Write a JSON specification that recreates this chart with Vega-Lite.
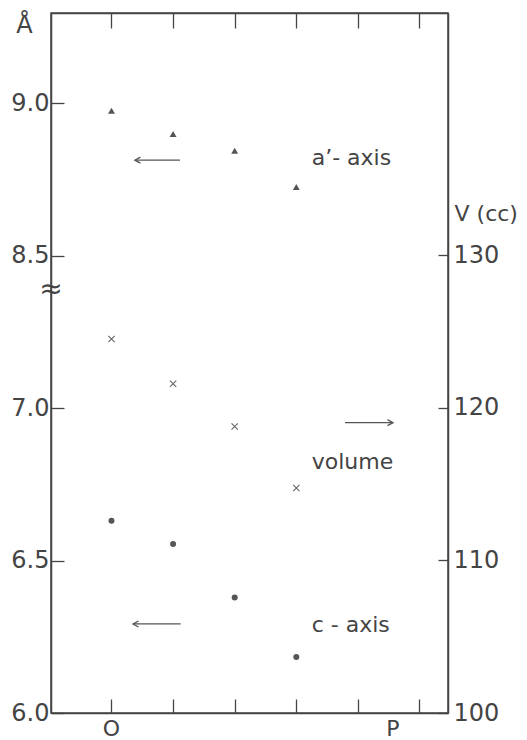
{
  "$schema": "https://vega.github.io/schema/vega-lite/v6.json",
  "width": 397,
  "height": 700,
  "autosize": {"type": "none"},
  "padding": {"left": 51, "top": 13, "right": 79, "bottom": 27},
  "background": "white",
  "config": {
    "view": {"stroke": "#444", "strokeWidth": 1.5},
    "font": "DejaVu Sans",
    "axis": {
      "domainColor": "#444", "domainWidth": 1.5,
      "tickColor": "#444", "tickWidth": 1.3,
      "grid": false,
      "labelColor": "#444", "titleColor": "#444",
      "labelFont": "DejaVu Sans", "titleFont": "DejaVu Sans",
      "titleFontWeight": "normal"
    }
  },
  "datasets": {
    "caxis": [
      {"pos": 0, "value": 6.63},
      {"pos": 1, "value": 6.554},
      {"pos": 2, "value": 6.379},
      {"pos": 3, "value": 6.184}
    ],
    "aaxis": [
      {"pos": 0, "value": 8.975},
      {"pos": 1, "value": 8.899},
      {"pos": 2, "value": 8.844},
      {"pos": 3, "value": 8.725}
    ],
    "volume": [
      {"pos": 0, "volume": 124.52},
      {"pos": 1, "volume": 121.59},
      {"pos": 2, "volume": 118.79},
      {"pos": 3, "volume": 114.75}
    ],
    "arrows": [
      {"x1": 0.38, "x2": 1.112, "y": 8.813, "tip": 0.38, "dir": "left"},
      {"x1": 3.79, "x2": 4.57, "y": 6.952, "tip": 4.57, "dir": "right"},
      {"x1": 0.349, "x2": 1.123, "y": 6.292, "tip": 0.349, "dir": "left"}
    ],
    "labels": [
      {"pos": 3.25, "value": 8.819, "text": "a’- axis"},
      {"pos": 3.25, "value": 6.824, "text": "volume"},
      {"pos": 3.25, "value": 6.289, "text": "c - axis"}
    ],
    "xlabels": [
      {"pos": 0, "value": 5.946, "text": "O"},
      {"pos": 4.57, "value": 5.946, "text": "P"}
    ],
    "brk": [
      {"pos": -0.982, "value": 7.388, "text": "≈"}
    ]
  },
  "layer": [
    {
      "data": {"name": "caxis"},
      "mark": {"type": "point", "shape": "circle", "filled": true, "size": 36, "color": "#555", "opacity": 1},
      "encoding": {
        "x": {
          "field": "pos", "type": "quantitative",
          "scale": {"domain": [-0.982, 5.463], "nice": false, "zero": false},
          "axis": {"orient": "bottom", "values": [0, 1, 2, 3, 4, 5], "tickSize": -14, "labels": false, "title": null}
        },
        "y": {
          "field": "value", "type": "quantitative",
          "scale": {"domain": [6.0, 7.388, 8.388, 9.296], "range": [700, 276.7, 276.7, 0], "nice": false, "zero": false},
          "axis": {
            "orient": "left", "values": [6.0, 6.5, 7.0, 8.5, 9.0], "format": ".1f",
            "tickSize": -13, "labelPadding": 15, "labelFontSize": 24,
            "title": "Å", "titleAngle": 0, "titleX": -27, "titleY": 12,
            "titleAlign": "center", "titleBaseline": "middle", "titleFontSize": 24
          }
        }
      }
    },
    {
      "data": {"name": "aaxis"},
      "mark": {"type": "point", "shape": "triangle-up", "filled": true, "size": 48, "color": "#555", "opacity": 1},
      "encoding": {
        "x": {"field": "pos", "type": "quantitative", "axis": null},
        "y": {
          "field": "value", "type": "quantitative", "axis": null,
          "scale": {"domain": [6.0, 7.388, 8.388, 9.296], "range": [700, 276.7, 276.7, 0], "nice": false, "zero": false}
        }
      }
    },
    {
      "data": {"name": "arrows"},
      "mark": {"type": "rule", "color": "#555", "strokeWidth": 1.3},
      "encoding": {
        "x": {"field": "x1", "type": "quantitative", "axis": null},
        "x2": {"field": "x2"},
        "y": {
          "field": "y", "type": "quantitative", "axis": null,
          "scale": {"domain": [6.0, 7.388, 8.388, 9.296], "range": [700, 276.7, 276.7, 0], "nice": false, "zero": false}
        }
      }
    },
    {
      "data": {"name": "arrows"},
      "mark": {"type": "point", "filled": false, "size": 100, "color": "#555", "strokeWidth": 1.3, "opacity": 1},
      "encoding": {
        "x": {"field": "tip", "type": "quantitative", "axis": null},
        "y": {
          "field": "y", "type": "quantitative", "axis": null,
          "scale": {"domain": [6.0, 7.388, 8.388, 9.296], "range": [700, 276.7, 276.7, 0], "nice": false, "zero": false}
        },
        "shape": {
          "field": "dir", "type": "nominal",
          "scale": {"domain": ["left", "right"], "range": ["M1.1,-0.6L0,0L1.1,0.6", "M-1.1,-0.6L0,0L-1.1,0.6"]},
          "legend": null
        }
      }
    },
    {
      "data": {"name": "labels"},
      "mark": {"type": "text", "align": "left", "baseline": "middle", "fontSize": 22, "color": "#444"},
      "encoding": {
        "x": {"field": "pos", "type": "quantitative", "axis": null},
        "y": {
          "field": "value", "type": "quantitative", "axis": null,
          "scale": {"domain": [6.0, 7.388, 8.388, 9.296], "range": [700, 276.7, 276.7, 0], "nice": false, "zero": false}
        },
        "text": {"field": "text"}
      }
    },
    {
      "data": {"name": "xlabels"},
      "mark": {"type": "text", "align": "center", "baseline": "middle", "fontSize": 22, "color": "#444"},
      "encoding": {
        "x": {"field": "pos", "type": "quantitative", "axis": null},
        "y": {
          "field": "value", "type": "quantitative", "axis": null,
          "scale": {"domain": [6.0, 7.388, 8.388, 9.296], "range": [700, 276.7, 276.7, 0], "nice": false, "zero": false}
        },
        "text": {"field": "text"}
      }
    },
    {
      "data": {"name": "brk"},
      "mark": {"type": "text", "align": "center", "baseline": "middle", "fontSize": 28, "color": "#444"},
      "encoding": {
        "x": {"field": "pos", "type": "quantitative", "axis": null},
        "y": {
          "field": "value", "type": "quantitative", "axis": null,
          "scale": {"domain": [6.0, 7.388, 8.388, 9.296], "range": [700, 276.7, 276.7, 0], "nice": false, "zero": false}
        },
        "text": {"field": "text"}
      }
    },
    {
      "data": {"name": "volume"},
      "mark": {"type": "point", "filled": false, "size": 40, "color": "#666", "strokeWidth": 1.1, "opacity": 1, "shape": "M-1,-1L1,1M-1,1L1,-1"},
      "encoding": {
        "x": {
          "field": "pos", "type": "quantitative",
          "axis": {"orient": "top", "values": [0, 1, 2, 3, 4, 5], "tickSize": -15, "labels": false, "title": null}
        },
        "y": {
          "field": "volume", "type": "quantitative",
          "scale": {"domain": [100, 145.9], "nice": false, "zero": false},
          "axis": {
            "orient": "right", "values": [100, 110, 120, 130],
            "tickSize": -10, "labelPadding": 15, "labelFontSize": 24, "labelAlign": "left",
            "title": "V (cc)", "titleAngle": 0, "titleX": 6, "titleY": 200,
            "titleAlign": "left", "titleBaseline": "middle", "titleFontSize": 22
          }
        }
      }
    }
  ],
  "resolve": {
    "scale": {"y": "independent"},
    "axis": {"x": "independent", "y": "independent"}
  }
}
